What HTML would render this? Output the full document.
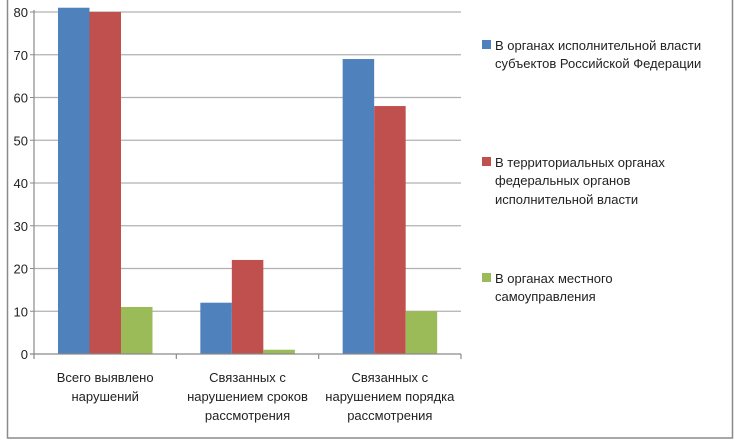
<!DOCTYPE html>
<html><head><meta charset="utf-8"><style>
body{margin:0;background:#fff}
svg{display:block;font-family:"Liberation Sans","DejaVu Sans",sans-serif}
</style></head><body>
<svg width="735" height="441" viewBox="0 0 735 441">
<rect x="7.5" y="-2" width="725" height="440" fill="#fff" stroke="#8a8a8a" stroke-width="1.5"/>
<g id="grid"></g><g id="bars"></g><g id="axes"></g>
<g font-size="13" fill="#222">
<rect x="482" y="40" width="9" height="9" fill="#4f81bd"/>
<text x="495" y="50">В органах исполнительной власти</text>
<text x="495" y="68">субъектов Российской Федерации</text>
<rect x="482" y="157" width="9" height="9" fill="#c0504d"/>
<text x="495" y="167">В территориальных органах</text>
<text x="495" y="185">федеральных органов</text>
<text x="495" y="204">исполнительной власти</text>
<rect x="482" y="273" width="9" height="9" fill="#9bbb59"/>
<text x="495" y="283">В органах местного</text>
<text x="495" y="301">самоуправления</text>
</g>
</svg>
<script>
const categories=[["Всего выявлено","нарушений"],["Связанных с","нарушением сроков","рассмотрения"],["Связанных с","нарушением порядка","рассмотрения"]];
const seriesBlue=[81,12,69];
const seriesRed=[80,22,58];
const seriesGreen=[11,1,10];
const yTicks=[0,10,20,30,40,50,60,70,80];
const ns="http://www.w3.org/2000/svg";
const X0=34,X1=461,Y0=354,Y80=12,gw=(X1-X0)/3,bw=31.5;
const y=v=>Y0-(Y0-Y80)*v/80;
function mk(t,a,p){const e=document.createElementNS(ns,t);for(const k in a)e.setAttribute(k,a[k]);p.appendChild(e);return e;}
const grid=document.getElementById('grid'),bars=document.getElementById('bars'),axes=document.getElementById('axes');
yTicks.forEach(v=>{
 if(v>0){const l=mk('line',{x1:X0,x2:X1,y1:y(v),y2:y(v),stroke:'#b0b0b0','stroke-width':1.2},grid);
 }
 const t=mk('text',{x:X0-6,y:y(v)+5,'text-anchor':'end','font-size':13,fill:'#222'},axes);t.textContent=v;
 
});
const series=[[seriesBlue,'#4f81bd'],[seriesRed,'#c0504d'],[seriesGreen,'#9bbb59']];
categories.forEach((c,i)=>{
 const gx=X0+gw*i;
 series.forEach(([s,col],j)=>{
  const r=mk('rect',{x:gx+24+bw*j,y:y(s[i]),width:bw,height:Y0-y(s[i]),fill:col},bars);
  
 });
 c.forEach((ln,k)=>{const t=mk('text',{x:gx+gw/2,y:382+k*19,'text-anchor':'middle','font-size':13,fill:'#222'},axes);t.textContent=ln;
  });
});
const ax=mk('line',{x1:X0,x2:X0,y1:Y80-2,y2:Y0,stroke:'#8a8a8a','stroke-width':1.2},axes);

const bx=mk('line',{x1:X0-4,x2:X1,y1:Y0,y2:Y0,stroke:'#8a8a8a','stroke-width':1.2},axes);

for(let i=0;i<=3;i++){const t=mk('line',{x1:X0+gw*i,x2:X0+gw*i,y1:Y0,y2:Y0+5,stroke:'#8a8a8a','stroke-width':1.2},axes);
 }
yTicks.forEach(v=>{const t=mk('line',{x1:X0-4,x2:X0,y1:y(v),y2:y(v),stroke:'#8a8a8a'},axes);
 });
</script>
</body></html>
